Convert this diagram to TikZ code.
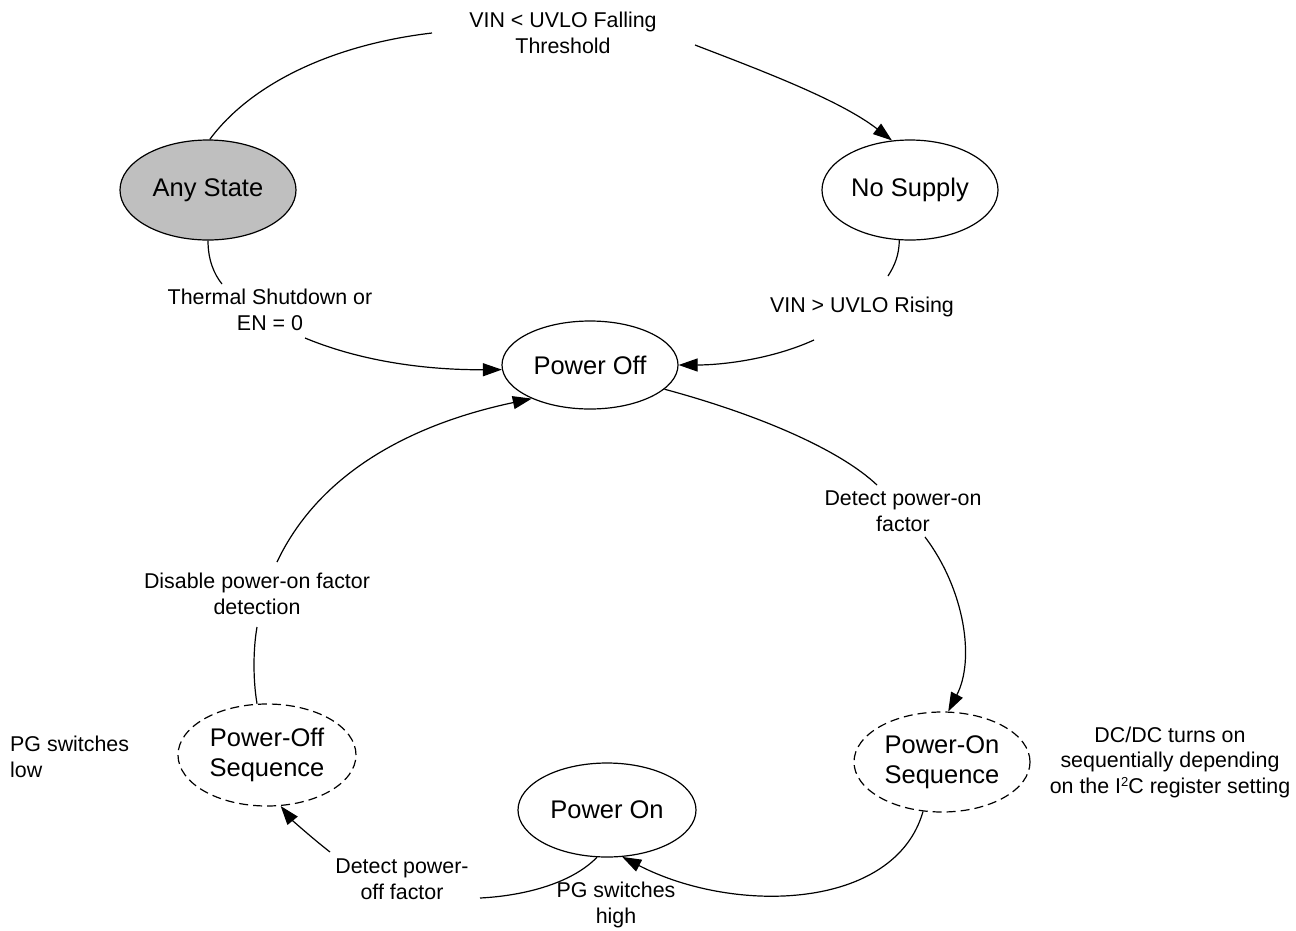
\documentclass[tikz,border=0pt]{standalone}
\usepackage{fontspec}
\setmainfont{Liberation Sans}
\usetikzlibrary{shapes.geometric,arrows.meta}
\definecolor{anyfill}{RGB}{191,191,191}
\tikzset{
  state/.style={ellipse, draw, line width=1.2pt, inner sep=0pt, align=center,
    font=\fontsize{25.5}{30}\selectfont},
  seqstate/.style={state, dash pattern=on 9pt off 5pt},
  lbl/.style={inner sep=0pt, align=center, font=\fontsize{21.4}{25.5}\selectfont},
  conn/.style={line width=1.2pt},
  arr/.style={conn, -{Triangle[length=19pt,width=13pt]}},
}
\begin{document}
\begin{tikzpicture}[x=1pt,y=-1pt]
\useasboundingbox (0,0) rectangle (1296,930);
% states
\node[state, fill=anyfill, minimum width=176pt, minimum height=100pt] (any) at (208,190) {Any State};
\node[state, minimum width=176pt, minimum height=100pt] (nos) at (910,190) {No Supply};
\node[state, minimum width=176pt, minimum height=88pt] (poff) at (590,365) {Power Off};
\node[seqstate, minimum width=176pt, minimum height=100pt] (ponseq) at (942,762) {Power-On\\Sequence};
\node[seqstate, minimum width=178pt, minimum height=102pt] (poffseq) at (267,755) {Power-Off\\Sequence};
\node[state, minimum width=178pt, minimum height=94pt] (pon) at (607,810) {Power On};
% labels
\node[lbl] (l1) at (563,33) {VIN < UVLO Falling\\Threshold};
\node[lbl] (l2) at (270,310) {Thermal Shutdown or\\EN = 0};
\node[lbl] (l3) at (862,307) {VIN > UVLO Rising};
\node[lbl] (l4) at (903,511) {Detect power-on\\factor};
\node[lbl] (l5) at (257,594) {Disable power-on factor\\detection};
\node[lbl] (l6) at (402,879) {Detect power-\\off factor};
\node[lbl] (l7) at (616,905) {PG switches\\high};
\node[lbl, align=left, anchor=west] (l8) at (10,757) {PG switches\\low};
\node[lbl] (l9) at (1170,762) {DC/DC turns on\\sequentially depending\\on the I{\fontsize{13}{13}\selectfont\raisebox{7pt}{2}}C register setting};
% free ends
\coordinate (a1) at (432,33);
\coordinate (a2) at (695,45);
\coordinate (b1) at (222,284);
\coordinate (b2) at (305,338);
\coordinate (c1) at (888,276);
\coordinate (c2) at (814,340);
\coordinate (d1) at (877,485);
\coordinate (d2) at (925,537);
\coordinate (e1) at (480,898);
\coordinate (e2) at (330,852);
\coordinate (f1) at (257,627);
\coordinate (f2) at (277,562);
% connectors
\draw[conn] (any.88) .. controls (250,85) and (330,45) .. (a1);
\draw[arr] (a2) .. controls (760,70) and (840,100) .. (nos.110);
\draw[conn] (any.-90) .. controls (208,260) and (214,274) .. (b1);
\draw[arr] (b2) .. controls (370,365) and (440,370) .. (poff.183);
\draw[conn] (nos.-102) .. controls (899,255) and (895,265) .. (c1);
\draw[arr] (c2) .. controls (770,360) and (720,365) .. (poff.0);
\draw[conn] (poff.-18) .. controls (760,415) and (840,450) .. (d1);
\draw[arr] (d2) .. controls (965,590) and (975,660) .. (ponseq.83);
\draw[arr] (ponseq.-111) .. controls (895,910) and (735,915) .. (pon.-72);
\draw[conn] (pon.-102) .. controls (570,885) and (520,896) .. (e1);
\draw[arr] (e2) .. controls (312,838) and (292,820) .. (poffseq.-75);
\draw[conn] (poffseq.101) .. controls (253,680) and (253,650) .. (f1);
\draw[arr] (f2) .. controls (330,450) and (455,415) .. (poff.-150);
\end{tikzpicture}
\end{document}
